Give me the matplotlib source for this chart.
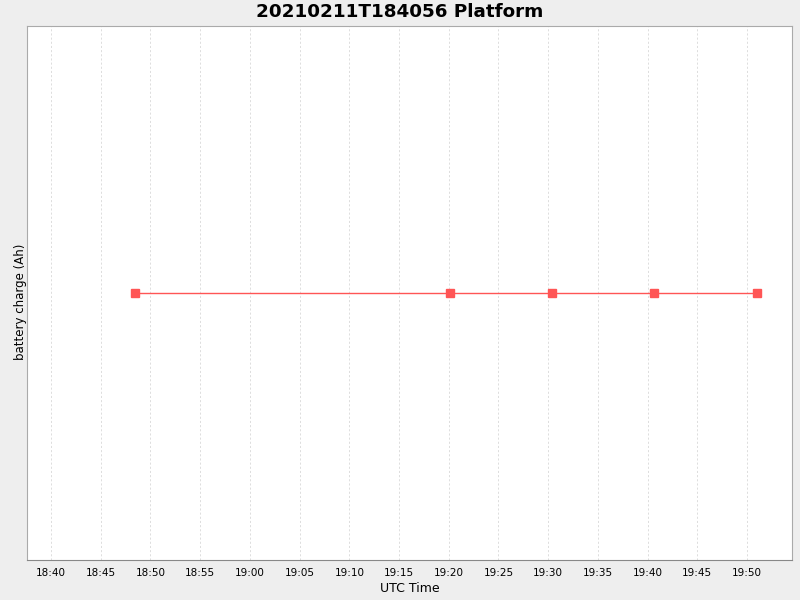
import matplotlib
matplotlib.use("Agg")
import matplotlib.pyplot as plt
import matplotlib.dates as mdates
from datetime import datetime

times = ["2021-02-11 18:48:27", "2021-02-11 19:20:08", "2021-02-11 19:30:23",
         "2021-02-11 19:40:39", "2021-02-11 19:51:00"]
charge = [0.0, 0.0, 0.0, 0.0, 0.0]
title = "20210211T184056 Platform"

t = [datetime.strptime(s, "%Y-%m-%d %H:%M:%S") for s in times]

fig = plt.figure(figsize=(8, 6), dpi=100, facecolor="#EEEEEE")
ax = fig.add_axes([27/800, 1-560/600, (792-27)/800, (560-26)/600])
ax.set_facecolor("white")
ax.plot(t, charge, color="#FF5555", lw=1.0, marker="s", ms=6, mec="#FF5555", mfc="#FF5555", zorder=3)
ax.set_xlim(datetime(2021, 2, 11, 18, 37, 35), datetime(2021, 2, 11, 19, 54, 31))
ax.set_ylim(-1, 1)
ax.xaxis.set_major_locator(mdates.MinuteLocator(byminute=range(0, 60, 5)))
ax.xaxis.set_major_formatter(mdates.DateFormatter("%H:%M"))
ax.tick_params(axis="x", length=0, labelsize=7.5, pad=6)
ax.set_yticks([])
ax.grid(axis="x", color="#D8D8D8", ls=(0, (2.5, 2.5)), lw=0.6)
for s in ax.spines.values():
    s.set_color("#AAAAAA")
ax.spines["bottom"].set_color("#888888")
ax.set_xlabel("UTC Time", fontsize=9, labelpad=3)
ax.set_ylabel("battery charge (Ah)", fontsize=8.5)
ax.yaxis.set_label_coords(-0.0005, 0.483)
fig.suptitle(title, fontsize=13.2, fontweight="bold", y=0.995)
fig.savefig("out.png", dpi=100, facecolor=fig.get_facecolor())
